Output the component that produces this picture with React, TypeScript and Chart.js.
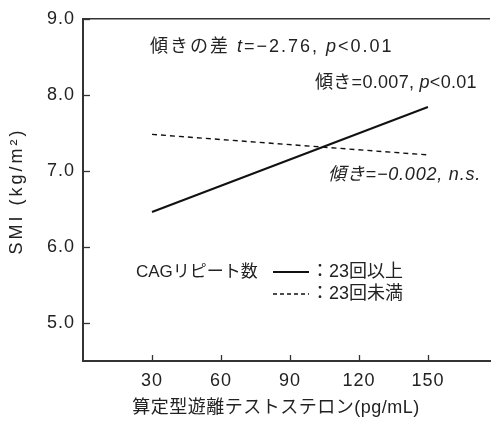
import React, { useEffect, useRef } from "react";
import { Chart, registerables } from "chart.js";
Chart.register(...registerables);

// ---- data ----
const xTicks = [30, 60, 90, 120, 150];
const yTicks = [5, 6, 7, 8, 9];
const fitX = [30, 150];
const cag23OrMore = [6.46, 7.84]; // solid line
const cagUnder23 = [7.48, 7.21]; // dashed line
const xTitle = "算定型遊離テストステロン(pg/mL)";
const yTitle = "SMI (kg/m²)";
const legendTitle = "CAGリピート数";
const seriesLabels = ["：23回以上", "：23回未満"];
const annotation1 = [["傾きの差 ", false], ["t", true], ["=−2.76, ", false], ["p", true], ["<0.01", false]];
const annotation2 = [["傾き=0.007, ", false], ["p", true], ["<0.01", false]];
const annotation3 = [["傾き=−0.002, n.s.", true]];

const FONT = "'Liberation Sans', 'Noto Sans CJK JP', sans-serif";
const INK = "#222";

function drawSegs(ctx: CanvasRenderingContext2D, segs: any[], x: number, y: number, size: number, spacing: number) {
  (ctx as any).letterSpacing = `${spacing}px`;
  let cx = x;
  for (const [t, it] of segs) {
    ctx.font = `${it ? "italic " : ""}${size}px ${FONT}`;
    ctx.fillText(t, cx, y);
    cx += ctx.measureText(t).width;
  }
}

const decor = {
  id: "decor",
  beforeDraw(chart: any) {
    (chart.ctx as any).letterSpacing = "1px";
  },
  afterDraw(chart: any) {
    const ctx: CanvasRenderingContext2D = chart.ctx;
    const { left, right, top, bottom } = chart.chartArea;
    const xs = chart.scales.x;
    const ys = chart.scales.y;
    ctx.save();
    ctx.strokeStyle = "#333";
    ctx.lineWidth = 1.5;
    // top frame line
    ctx.beginPath();
    ctx.moveTo(left, top);
    ctx.lineTo(right, top);
    ctx.stroke();
    // inward ticks
    ctx.lineWidth = 1.3;
    for (const v of xTicks) {
      const px = Math.round(xs.getPixelForValue(v)) + 0.5;
      ctx.beginPath();
      ctx.moveTo(px, bottom);
      ctx.lineTo(px, bottom - 6);
      ctx.stroke();
    }
    for (const v of yTicks) {
      const py = Math.round(ys.getPixelForValue(v)) + 0.5;
      ctx.beginPath();
      ctx.moveTo(left, py);
      ctx.lineTo(left + 7, py);
      ctx.stroke();
    }
    ctx.fillStyle = INK;
    ctx.textBaseline = "middle";
    ctx.textAlign = "left";
    drawSegs(ctx, annotation1, 150, 47, 18, 2);
    drawSegs(ctx, annotation2, 315, 83, 18, 0.3);
    drawSegs(ctx, annotation3, 328, 175, 18, 0.8);

    // legend
    (ctx as any).letterSpacing = "0px";
    ctx.font = `17px ${FONT}`;
    ctx.fillText(legendTitle, 136, 272);
    ctx.font = `18px ${FONT}`;
    ctx.fillText(seriesLabels[0], 311, 272);
    ctx.fillText(seriesLabels[1], 311, 294);
    ctx.strokeStyle = "#111";
    ctx.lineWidth = 2;
    ctx.beginPath();
    ctx.moveTo(273, 272);
    ctx.lineTo(309, 272);
    ctx.stroke();
    ctx.lineWidth = 1.4;
    ctx.setLineDash([4, 3]);
    ctx.beginPath();
    ctx.moveTo(273, 294);
    ctx.lineTo(309, 294);
    ctx.stroke();
    ctx.setLineDash([]);

    // axis titles
    ctx.textAlign = "center";
    (ctx as any).letterSpacing = "0.5px";
    ctx.font = `18px ${FONT}`;
    ctx.fillText(xTitle, 276, 408);
    ctx.save();
    ctx.translate(17, 191);
    ctx.rotate(-Math.PI / 2);
    (ctx as any).letterSpacing = "3px";
    ctx.fillText(yTitle, 0, 0);
    ctx.restore();
    ctx.restore();
  },
};

export default function App() {
  const ref = useRef<HTMLCanvasElement>(null);
  useEffect(() => {
    const chart = new Chart(ref.current!, {
      type: "line",
      data: {
        datasets: [
          {
            label: "23回以上",
            data: fitX.map((x, i) => ({ x, y: cag23OrMore[i] })),
            borderColor: "#111",
            borderWidth: 2,
            pointRadius: 0,
            fill: false,
          },
          {
            label: "23回未満",
            data: fitX.map((x, i) => ({ x, y: cagUnder23[i] })),
            borderColor: "#111",
            borderWidth: 1.4,
            borderDash: [5, 4],
            pointRadius: 0,
            fill: false,
          },
        ],
      },
      options: {
        animation: false,
        responsive: false,
        layout: { padding: { top: 18, right: 1, left: 0, bottom: 0 } },
        plugins: { legend: { display: false }, tooltip: { enabled: false } },
        scales: {
          x: {
            type: "linear",
            min: 0,
            max: 177,
            afterFit: (s: any) => {
              s.height = 63;
            },
            afterBuildTicks: (s: any) => {
              s.ticks = xTicks.map((v) => ({ value: v }));
            },
            grid: { display: true, drawOnChartArea: false, drawTicks: false },
            border: { display: true, color: "#333", width: 2 },
            ticks: {
              padding: 9,
              color: INK,
              font: { family: FONT, size: 18 },
              maxRotation: 0,
              autoSkip: false,
              callback: (v: any) => String(v),
            },
          },
          y: {
            type: "linear",
            min: 4.5,
            max: 9,
            afterFit: (s: any) => {
              s.width = 83;
            },
            afterBuildTicks: (s: any) => {
              s.ticks = yTicks.map((v) => ({ value: v }));
            },
            grid: { display: true, drawOnChartArea: false, drawTicks: false },
            border: { display: true, color: "#333", width: 2 },
            ticks: {
              padding: 8,
              color: INK,
              font: { family: FONT, size: 18 },
              autoSkip: false,
              callback: (v: any) => Number(v).toFixed(1),
            },
          },
        },
      },
      plugins: [decor],
    } as any);
    return () => chart.destroy();
  }, []);
  return (
    <div style={{ position: "absolute", left: 0, top: 0, width: 491, height: 424, background: "#fff" }}>
      <canvas ref={ref} width={491} height={424} />
    </div>
  );
}
